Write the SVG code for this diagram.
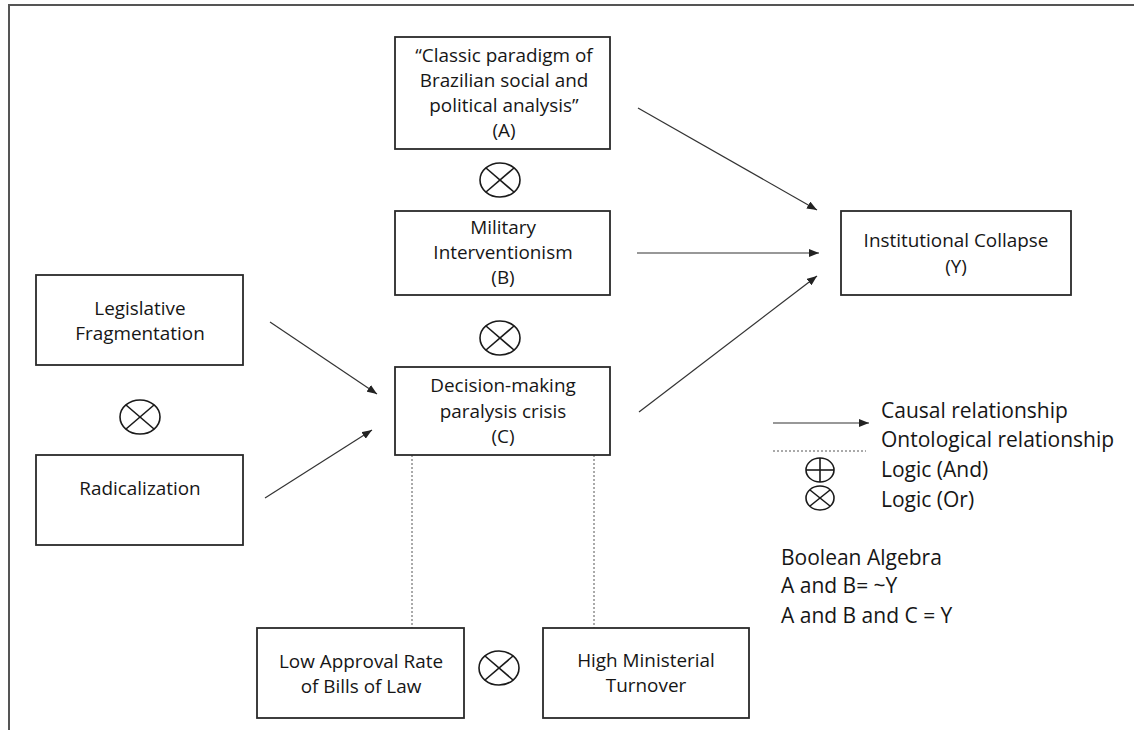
<svg xmlns="http://www.w3.org/2000/svg" width="1134" height="730" viewBox="0 0 1134 730">
  <style>
    .box { fill: #ffffff; stroke: #2a2a2a; stroke-width: 1.8; }
    .lbl { font-family: "Open Sans", Lato, "Liberation Sans", sans-serif; font-size: 18.9px; fill: #161616; text-anchor: middle; }
    .leg { font-family: "Open Sans", Lato, "Liberation Sans", sans-serif; font-size: 21px; fill: #161616; }
    .causal { stroke: #333333; stroke-width: 1.2; fill: none; marker-end: url(#head); }
    .onto { stroke: #555555; stroke-width: 1; stroke-dasharray: 2 2; fill: none; }
    .gate { fill: none; stroke: #1a1a1a; stroke-width: 1.6; }
  </style>
  <defs>
    <marker id="head" viewBox="0 0 10 8" refX="10" refY="4" markerWidth="10" markerHeight="8" markerUnits="userSpaceOnUse" orient="auto">
      <path d="M0,0 L10,4 L0,8 Z" fill="#222222"/>
    </marker>
    <g id="orGate">
      <ellipse cx="0" cy="0" rx="20" ry="17" class="gate"/>
      <line x1="-14" y1="-12" x2="14" y2="12" class="gate"/>
      <line x1="-14" y1="12" x2="14" y2="-12" class="gate"/>
    </g>
  </defs>

  <rect width="1134" height="730" fill="#ffffff"/>
  <!-- outer frame -->
  <path d="M9,730 V5 H1134" fill="none" stroke="#555555" stroke-width="2"/>

  <!-- connectors -->
  <g id="connectors">
    <line class="causal" x1="638" y1="108" x2="817" y2="210"/>
    <line class="causal" x1="637" y1="253" x2="819" y2="253"/>
    <line class="causal" x1="639" y1="412" x2="817" y2="276"/>
    <line class="causal" x1="270" y1="322" x2="377" y2="394"/>
    <line class="causal" x1="265" y1="498" x2="372" y2="430"/>
    <line class="onto" x1="412" y1="455" x2="412" y2="628"/>
    <line class="onto" x1="594" y1="455" x2="594" y2="628"/>
  </g>

  <!-- nodes -->
  <g id="nodeA">
    <rect class="box" x="395" y="37" width="215" height="112"/>
    <text class="lbl" x="504" y="62">“Classic paradigm of</text>
    <text class="lbl" x="504" y="87">Brazilian social and</text>
    <text class="lbl" x="504" y="112">political analysis”</text>
    <text class="lbl" x="504" y="137">(A)</text>
  </g>
  <g id="nodeB">
    <rect class="box" x="395" y="211" width="215" height="84"/>
    <text class="lbl" x="503" y="234">Military</text>
    <text class="lbl" x="503" y="259">Interventionism</text>
    <text class="lbl" x="503" y="284">(B)</text>
  </g>
  <g id="nodeC">
    <rect class="box" x="395" y="367" width="215" height="88"/>
    <text class="lbl" x="503" y="392">Decision-making</text>
    <text class="lbl" x="503" y="418">paralysis crisis</text>
    <text class="lbl" x="503" y="443">(C)</text>
  </g>
  <g id="nodeY">
    <rect class="box" x="841" y="211" width="230" height="84"/>
    <text class="lbl" x="956" y="247">Institutional Collapse</text>
    <text class="lbl" x="956" y="273">(Y)</text>
  </g>
  <g id="nodeLegislative">
    <rect class="box" x="36" y="275" width="207" height="90"/>
    <text class="lbl" x="140" y="315">Legislative</text>
    <text class="lbl" x="140" y="340">Fragmentation</text>
  </g>
  <g id="nodeRadicalization">
    <rect class="box" x="36" y="455" width="207" height="90"/>
    <text class="lbl" x="140" y="495">Radicalization</text>
  </g>
  <g id="nodeLowApproval">
    <rect class="box" x="257" y="628" width="207" height="90"/>
    <text class="lbl" x="361" y="668">Low Approval Rate</text>
    <text class="lbl" x="361" y="693">of Bills of Law</text>
  </g>
  <g id="nodeMinisterial">
    <rect class="box" x="543" y="628" width="206" height="90"/>
    <text class="lbl" x="646" y="667">High Ministerial</text>
    <text class="lbl" x="646" y="692">Turnover</text>
  </g>

  <!-- logic gates between nodes -->
  <g id="gateAB"><use href="#orGate" x="500" y="180"/></g>
  <g id="gateBC"><use href="#orGate" x="500" y="338"/></g>
  <g id="gateLR"><use href="#orGate" x="140" y="417"/></g>
  <g id="gateLow"><use href="#orGate" x="499" y="668"/></g>

  <!-- legend -->
  <g id="legend">
    <line class="causal" x1="773" y1="423" x2="869" y2="423"/>
    <text class="leg" x="881" y="418">Causal relationship</text>
    <line class="onto" x1="773" y1="451" x2="866" y2="451"/>
    <text class="leg" x="881" y="447">Ontological relationship</text>
    <ellipse class="gate" cx="820" cy="470" rx="14" ry="12"/>
    <line class="gate" x1="806" y1="470" x2="834" y2="470"/>
    <line class="gate" x1="820" y1="458" x2="820" y2="482"/>
    <text class="leg" x="881" y="477">Logic (And)</text>
    <ellipse class="gate" cx="820" cy="498" rx="14" ry="12"/>
    <line class="gate" x1="810" y1="490" x2="830" y2="506"/>
    <line class="gate" x1="810" y1="506" x2="830" y2="490"/>
    <text class="leg" x="881" y="507">Logic (Or)</text>
    <text class="leg" x="781" y="565">Boolean Algebra</text>
    <text class="leg" x="781" y="593">A and B= ~Y</text>
    <text class="leg" x="781" y="623">A and B and C = Y</text>
  </g>
</svg>
